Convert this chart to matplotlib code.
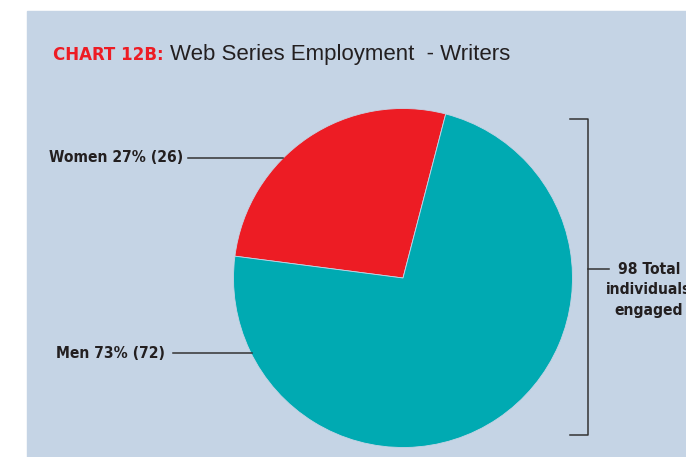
import matplotlib
matplotlib.use("Agg")
import matplotlib.pyplot as plt
from matplotlib.patches import Rectangle

# Web series writers by gender
labels = ["Women", "Men"]
percents = [27, 73]
counts = [26, 72]
colors = ["#ed1c24", "#00aab2"]
total = sum(counts)

W, H = 686, 457
fig = plt.figure(figsize=(W / 100, H / 100), dpi=100)
ax = fig.add_axes([0, 0, 1, 1])

ink = "#231f20"
lc = "#333333"
bold = dict(family="DejaVu Sans", fontstretch="condensed", fontweight="bold", color=ink)

# panel background
ax.add_patch(Rectangle((27, 0), W - 27, H - 11, color="#c5d4e5", zorder=0))

# pie
cx, cy, r = 403, H - 278, 169.5
ax.pie(percents, colors=colors, startangle=75.4, counterclock=True,
       center=(cx, cy), radius=r, frame=True,
       wedgeprops=dict(linewidth=0.6, edgecolor="#c5d4e5"))
ax.set_xlim(0, W)
ax.set_ylim(0, H)
ax.set_aspect("equal")
ax.axis("off")

# title
ax.text(53, H - 60, "CHART 12B:", fontsize=13.3, va="baseline",
        **{**bold, "color": "#ed1c24"})
ax.text(170, H - 60, "Web Series Employment  - Writers", color=ink,
        fontsize=16, family="Liberation Sans", va="baseline")

# callout labels
ax.plot([188, 283], [H - 158, H - 158], color=lc, lw=1.1)
ax.text(183, H - 158, f"{labels[0]} {percents[0]}% ({counts[0]})", ha="right",
        va="center", fontsize=11.2, **bold)
ax.plot([173, 252], [H - 353, H - 353], color=lc, lw=1.1)
ax.text(165, H - 354, f"{labels[1]} {percents[1]}% ({counts[1]})", ha="right",
        va="center", fontsize=11.2, **bold)

# total bracket
ax.plot([570, 588, 588, 570], [H - 119, H - 119, H - 435, H - 435], color=lc, lw=1.1)
ax.plot([588, 609], [H - 269, H - 269], color=lc, lw=1.1)
ax.text(649, H - 290, f"{total} Total\nindividuals\nengaged", ha="center",
        va="center", fontsize=11.2, linespacing=1.45, **bold)

fig.savefig("out.png", dpi=100, facecolor="white")
